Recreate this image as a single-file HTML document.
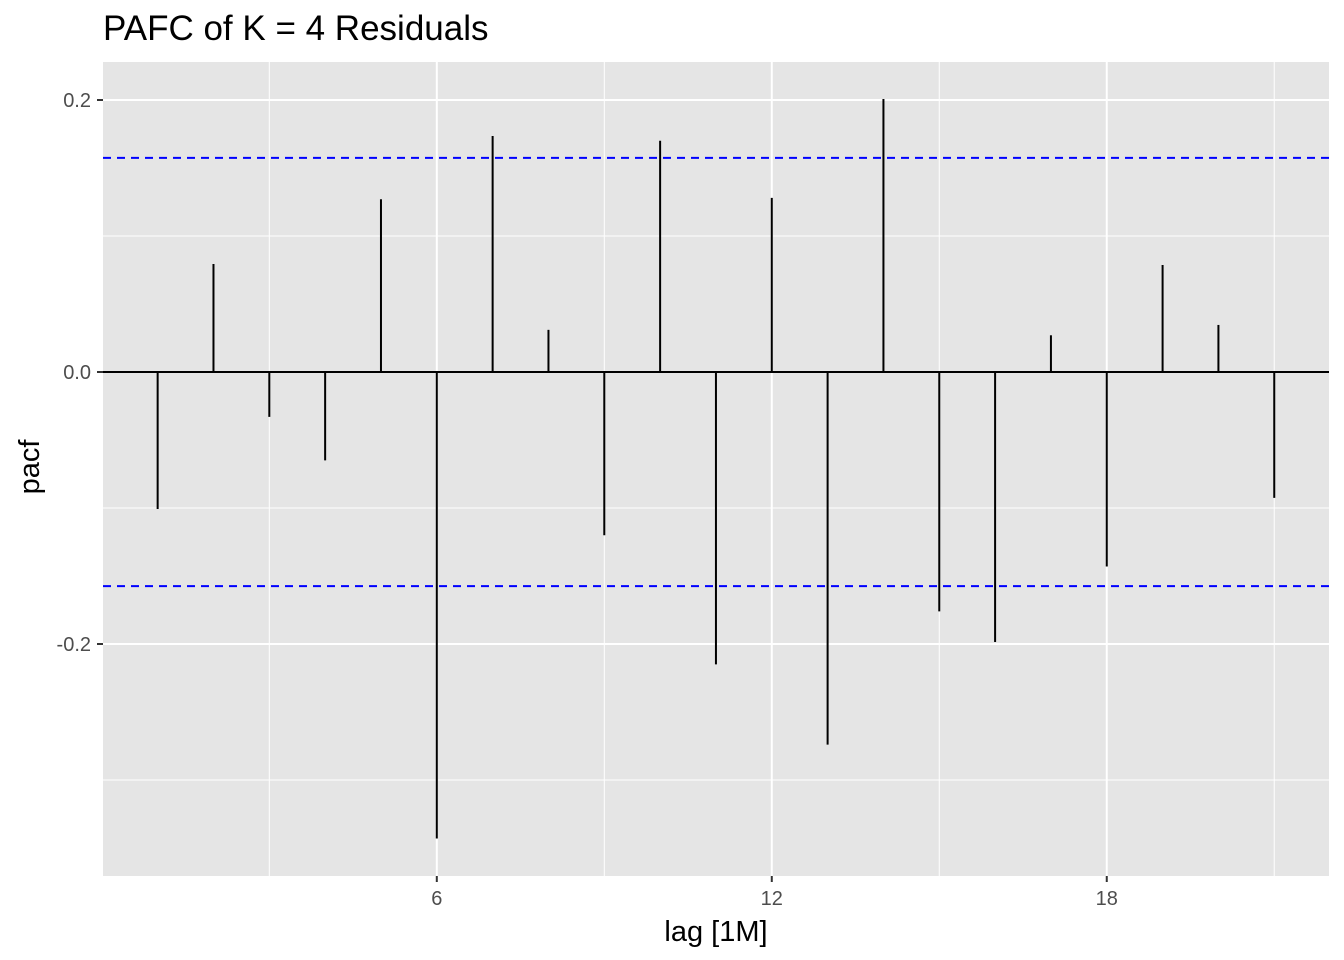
<!DOCTYPE html>
<html><head><meta charset="utf-8"><style>
html,body{margin:0;padding:0;background:#fff;}
svg{display:block;font-family:"Liberation Sans",Arial,sans-serif;}
</style></head><body>
<svg id="chart" width="1344" height="960">
<text x="103" y="40" font-size="35" fill="#000">PAFC of K = 4 Residuals</text>
<rect x="103" y="62" width="1226" height="814" fill="#e5e5e5"/>
<g id="grid"></g>
<g id="bars"></g>
<g id="axes"></g>
<text x="716" y="941" font-size="29" text-anchor="middle" fill="#000">lag [1M]</text>
<text transform="translate(39,467) rotate(-90)" font-size="29" text-anchor="middle" fill="#000">pacf</text>
</svg>
<script>
const lags = [1,2,3,4,5,6,7,8,9,10,11,12,13,14,15,16,17,18,19,20,21];
const pacf = [-0.1007,0.0794,-0.033,-0.065,0.127,-0.343,0.1735,0.031,-0.120,0.170,-0.215,0.128,-0.274,0.2007,-0.176,-0.1985,0.027,-0.143,0.0787,0.0346,-0.0926];
const ci = 0.1574;
const xMajor = [6,12,18];
const xMinor = [3,9,15,21];
const yMajor = [-0.2,0.0,0.2];
const yLabels = ["-0.2","0.0","0.2"];
const yMinor = [-0.3,-0.1,0.1];
const NS="http://www.w3.org/2000/svg";
const L=103,R=1329,T=62,B=876;
function xs(v){return 436.8+(v-6)*55.83;}
function ys(v){return 372-v*1360;}
function mk(tag,attrs,parent){const e=document.createElementNS(NS,tag);for(const k in attrs)e.setAttribute(k,attrs[k]);document.getElementById(parent).appendChild(e);return e;}
yMinor.forEach(v=>{const e=mk('line',{x1:L,x2:R,y1:ys(v),y2:ys(v),stroke:'#fff','stroke-width':1},'grid');

});
xMinor.forEach(v=>{const e=mk('line',{x1:xs(v),x2:xs(v),y1:T,y2:B,stroke:'#fff','stroke-width':1},'grid');

});
yMajor.forEach((v,i)=>{const e=mk('line',{x1:L,x2:R,y1:ys(v),y2:ys(v),stroke:'#fff','stroke-width':2},'grid');


const t=mk('line',{x1:97,x2:103,y1:ys(v),y2:ys(v),stroke:'#333','stroke-width':2},'axes');


const l=mk('text',{x:91,y:ys(v)+7,'font-size':20,'text-anchor':'end',fill:'#4d4d4d'},'axes');l.textContent=yLabels[i];

});
xMajor.forEach(v=>{const e=mk('line',{x1:xs(v),x2:xs(v),y1:T,y2:B,stroke:'#fff','stroke-width':2},'grid');


const t=mk('line',{x1:xs(v),x2:xs(v),y1:876,y2:882,stroke:'#333','stroke-width':2},'axes');


const l=mk('text',{x:xs(v),y:905,'font-size':20,'text-anchor':'middle',fill:'#4d4d4d'},'axes');l.textContent=String(v);

});
lags.forEach((g,i)=>{const e=mk('line',{x1:xs(g),x2:xs(g),y1:ys(0),y2:ys(pacf[i]),stroke:'#000','stroke-width':2},'bars');

});
const z=mk('line',{x1:L,x2:R,y1:ys(0),y2:ys(0),stroke:'#000','stroke-width':2},'bars');


[ci,-ci].forEach(c=>{const e=mk('line',{x1:L,x2:R,y1:ys(c),y2:ys(c),stroke:'#0000ff','stroke-width':2,'stroke-dasharray':'8,6'},'bars');

});
</script>
</body></html>
